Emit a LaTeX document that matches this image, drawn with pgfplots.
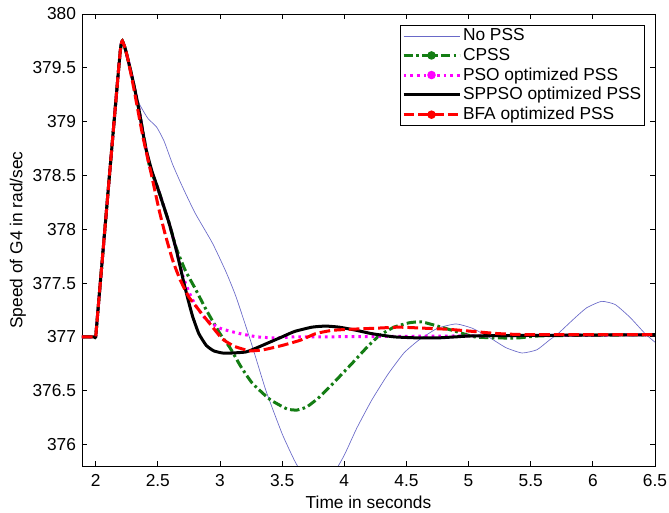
\documentclass[border=0pt]{standalone}
\usepackage{fontspec}
\setmainfont{Liberation Sans}
\usepackage{pgfplots}
\pgfplotsset{compat=1.18}
\definecolor{nopss}{RGB}{105,105,200}
\definecolor{cpss}{RGB}{20,125,20}
\definecolor{pso}{RGB}{255,0,255}
\definecolor{bfa}{RGB}{255,0,0}
\pgfplotsset{
  lineleg/.style={legend image code/.code={\draw[##1] (0pt,0pt) -- (42pt,0pt);}},
  dotleg/.style={legend image code/.code={\draw[##1] (0pt,0pt) -- (42pt,0pt); \fill[##1,solid] (21pt,0pt) circle (2pt);}},
}
\begin{document}
\fontsize{13}{15.5}\selectfont
\begin{tikzpicture}
\path[use as bounding box] (0pt,0pt) rectangle (501.75pt,384.75pt);
\begin{axis}[
  at={(61.5pt,35.25pt)}, anchor=south west,
  scale only axis, width=429.75pt, height=339pt,
  xmin=1.89, xmax=6.5, ymin=375.8, ymax=380,
  xtick={2,2.5,3,3.5,4,4.5,5,5.5,6,6.5},
  ytick={376,376.5,377,377.5,378,378.5,379,379.5,380},
  tick align=inside, major tick length=4pt,
  axis line style={line width=0.7pt},
  every tick/.style={black, line width=0.6pt},
  /pgf/number format/assume math mode=true,
  scaled ticks=false,
  xticklabel style={yshift=-2pt},
  xlabel={Time in seconds}, ylabel={Speed of G4 in rad/sec},
  xlabel style={at={(axis description cs:0.5,-0.08)},anchor=center},
  ylabel style={at={(axis description cs:-0.112,0.5)},anchor=center},
  legend cell align=left,
  legend style={at={(axis description cs:0.9825,0.9757)}, anchor=north east,
    draw=black, line width=0.6pt, inner sep=1pt, row sep=0.5pt,
    nodes={inner sep=1.5pt}},
  lineleg,
  every axis plot/.append style={smooth, tension=0.3},
]
\addplot[nopss, line width=0.5pt] coordinates {
(1.89,377) (1.985,377) (2.0,377) (2.015,377.2) (2.195,379.62) (2.225,379.72) (2.255,379.6) (2.30,379.38) (2.35,379.17) (2.42,379.03) (2.49,378.95)
(2.55,378.82) (2.62,378.6) (2.70,378.39) (2.8,378.15) (2.94,377.87) (3.05,377.6) (3.13,377.37)
(3.25,376.95) (3.37,376.5) (3.5,376.1) (3.6,375.85) (3.7,375.65) (3.8,375.57) (3.9,375.7)
(4.0,375.9) (4.1,376.15) (4.22,376.41) (4.35,376.65) (4.48,376.85) (4.6,376.97) (4.75,377.08)
(4.9,377.12) (5.03,377.08) (5.16,377.0) (5.3,376.9) (5.43,376.85) (5.55,376.88) (5.65,376.97)
(5.72,377.03) (5.85,377.17) (5.95,377.27) (6.07,377.33) (6.18,377.3) (6.3,377.18) (6.42,377.03)
(6.5,376.95)};
\addlegendentry{No PSS}
\addplot[cpss, line width=2.25pt, dash pattern=on 7pt off 2.5pt on 2pt off 2.5pt, dotleg] coordinates {
(1.89,377) (1.985,377) (2.0,377) (2.015,377.2) (2.195,379.62) (2.225,379.72) (2.255,379.6) (2.30,379.38) (2.35,379.1) (2.43,378.6) (2.5,378.38)
(2.59,378.06) (2.65,377.82) (2.72,377.62) (2.8,377.45) (2.89,377.25) (3.0,377.03) (3.08,376.9)
(3.17,376.72) (3.26,376.57) (3.4,376.42) (3.54,376.33) (3.62,376.32) (3.7,376.35) (3.8,376.44)
(3.92,376.58) (4.06,376.75) (4.18,376.9) (4.28,377.01) (4.4,377.09) (4.52,377.13) (4.62,377.14)
(4.75,377.1) (4.87,377.06) (5.05,377.0) (5.24,376.99) (5.4,376.99) (5.6,377.01) (6.5,377.02)};
\addlegendentry{CPSS}
\addplot[pso, line width=2.25pt, dash pattern=on 2pt off 3pt, dotleg] coordinates {
(1.89,377) (1.985,377) (2.0,377) (2.015,377.2) (2.195,379.62) (2.225,379.72) (2.255,379.6) (2.30,379.38) (2.35,379.1) (2.43,378.6) (2.5,378.38)
(2.59,378.06) (2.65,377.8) (2.70,377.57) (2.75,377.42) (2.80,377.3) (2.89,377.16) (3.0,377.08)
(3.16,377.03) (3.3,377.0) (3.45,376.99) (3.6,377.0) (3.8,377.0) (6.5,377.02)};
\addlegendentry{PSO optimized PSS}
\addplot[black, line width=2.25pt] coordinates {
(1.89,377) (1.985,377) (2.0,377) (2.015,377.2) (2.195,379.62) (2.225,379.72) (2.255,379.6) (2.30,379.38) (2.35,379.1) (2.4,378.77) (2.45,378.55)
(2.5,378.38) (2.59,378.06) (2.65,377.8) (2.70,377.55) (2.74,377.36) (2.78,377.19) (2.83,377.03)
(2.89,376.92) (2.95,376.87) (3.02,376.85) (3.1,376.85) (3.21,376.86) (3.3,376.9) (3.4,376.95)
(3.5,377.0) (3.6,377.05) (3.74,377.09) (3.85,377.1) (3.96,377.09) (4.1,377.06) (4.22,377.03)
(4.4,377.0) (4.6,376.99) (4.75,376.99) (4.9,377.0) (5.1,377.01) (6.5,377.02)};
\addlegendentry{SPPSO optimized PSS}
\addplot[bfa, line width=2.25pt, dash pattern=on 8pt off 3pt, dotleg] coordinates {
(1.89,377) (1.985,377) (2.0,377) (2.015,377.2) (2.195,379.62) (2.225,379.72) (2.255,379.6) (2.3,379.35) (2.38,378.86) (2.45,378.5) (2.51,378.18)
(2.56,377.95) (2.62,377.71) (2.68,377.53) (2.75,377.37) (2.83,377.25) (2.92,377.12) (3.02,376.98)
(3.12,376.91) (3.24,376.87) (3.35,376.88) (3.5,376.92) (3.65,376.97) (3.77,377.03) (3.9,377.06)
(4.04,377.07) (4.25,377.08) (4.44,377.09) (4.65,377.08) (4.84,377.07) (5.04,377.05) (5.24,377.03)
(5.5,377.02) (6.5,377.02)};
\addlegendentry{BFA optimized PSS}
\end{axis}
\end{tikzpicture}
\end{document}
